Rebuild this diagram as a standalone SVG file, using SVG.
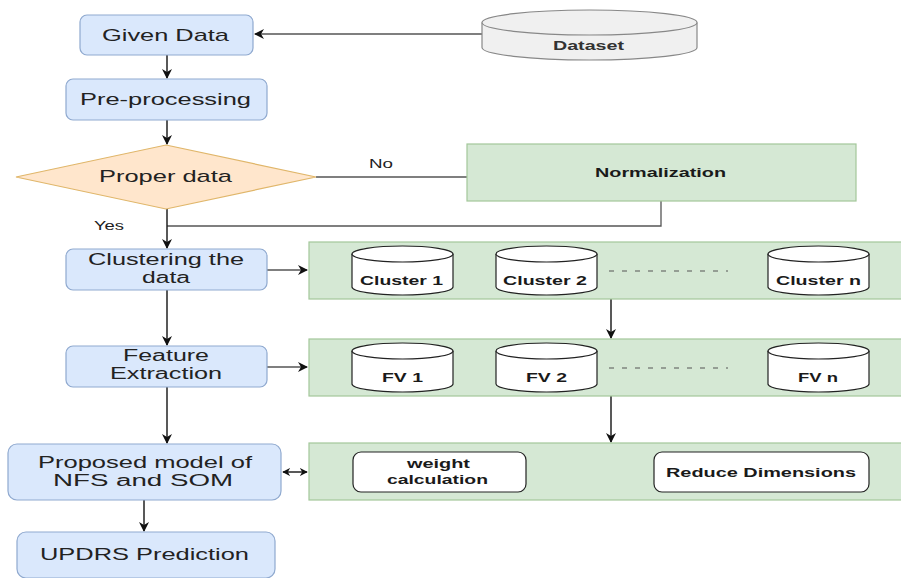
<svg xmlns="http://www.w3.org/2000/svg" width="901" height="578" viewBox="0 0 901 578">
<defs>
<style>
.blue{fill:#dae8fc;stroke:#8fa9cf;stroke-width:1.2}
.green{fill:#d5e8d4;stroke:#a3c79a;stroke-width:1.2}
.dia{fill:#ffe6cc;stroke:#e0b66a;stroke-width:1.2}
.cyl{fill:#ffffff;stroke:#222;stroke-width:1.2}
.wbox{fill:#ffffff;stroke:#222;stroke-width:1.2}
.t{font-family:"Liberation Sans",Arial,sans-serif;font-size:17px;fill:#222;text-anchor:middle}
.t2{font-family:"Liberation Sans",Arial,sans-serif;font-size:16px;fill:#222;text-anchor:middle}
.b{font-family:"Liberation Sans",Arial,sans-serif;font-size:13px;font-weight:bold;fill:#1a1a1a;text-anchor:middle}
.lbl{font-family:"Liberation Sans",Arial,sans-serif;font-size:13px;fill:#222;text-anchor:middle}
.c{fill:none;stroke:#222;stroke-width:1.5}
.cg{fill:none;stroke:#555;stroke-width:1.3}
</style>
<marker id="ah" viewBox="0 0 10 10" refX="9" refY="5" markerWidth="10" markerHeight="10" markerUnits="userSpaceOnUse" orient="auto">
<path d="M0,0 L10,5 L0,10 L3,5 Z" fill="#111"/>
</marker>
<marker id="ahs" viewBox="0 0 10 10" refX="9" refY="5" markerWidth="8" markerHeight="8" markerUnits="userSpaceOnUse" orient="auto-start-reverse">
<path d="M0,0 L10,5 L0,10 L3,5 Z" fill="#111"/>
</marker>
</defs>
<rect width="901" height="578" fill="#ffffff"/>

<g id="connectors">
<path class="cg" d="M482,34 H255" marker-end="url(#ah)"/>
<path class="c" d="M167,55 V78" marker-end="url(#ah)"/>
<path class="c" d="M167,120 V144" marker-end="url(#ah)"/>
<path class="cg" d="M316,177 H467"/>
<path class="cg" d="M661,201 V226 H167"/>
<path class="c" d="M167,209 V248" marker-end="url(#ah)"/>
<path class="cg" d="M267,270 H307" marker-end="url(#ah)"/>
<path class="c" d="M167,290 V345" marker-end="url(#ah)"/>
<path class="cg" d="M267,367 H307" marker-end="url(#ah)"/>
<path class="c" d="M611,299 V338" marker-end="url(#ah)"/>
<path class="c" d="M167,387 V443" marker-end="url(#ah)"/>
<path class="c" d="M611,396 V442" marker-end="url(#ah)"/>
<path class="c" d="M283,472 H307" marker-start="url(#ahs)" marker-end="url(#ahs)"/>
<path class="c" d="M144,500 V531" marker-end="url(#ah)"/>
<text class="lbl" x="381" y="168" textLength="24" lengthAdjust="spacingAndGlyphs">No</text>
<text class="lbl" x="109" y="230" textLength="30" lengthAdjust="spacingAndGlyphs">Yes</text>
</g>

<g id="dataset">
<path d="M482,22.5 V47.5 A107.5,12.5 0 0 0 697,47.5 V22.5" fill="#f0f0f0" stroke="#888" stroke-width="1.2"/>
<ellipse cx="589.5" cy="22.5" rx="107.5" ry="12.5" fill="#f0f0f0" stroke="#888" stroke-width="1.2"/>
<text class="b" x="588.5" y="50" textLength="71" lengthAdjust="spacingAndGlyphs" style="fill:#333">Dataset</text>
</g>

<g id="given-data">
<rect class="blue" x="80" y="15" width="173" height="40" rx="7"/>
<text class="t" x="165.5" y="41" textLength="127" lengthAdjust="spacingAndGlyphs">Given Data</text>
</g>

<g id="pre-processing">
<rect class="blue" x="66" y="79" width="201" height="41" rx="7"/>
<text class="t" x="165.5" y="105" textLength="171" lengthAdjust="spacingAndGlyphs">Pre-processing</text>
</g>

<g id="proper-data">
<polygon class="dia" points="166,145 316,177 166,209 16,177"/>
<text class="t" x="165.5" y="182" textLength="133" lengthAdjust="spacingAndGlyphs">Proper data</text>
</g>

<g id="normalization">
<rect class="green" x="467" y="144" width="389" height="57"/>
<text class="b" x="660.5" y="177" textLength="131" lengthAdjust="spacingAndGlyphs">Normalization</text>
</g>

<g id="clustering">
<rect class="blue" x="66" y="249" width="201" height="41" rx="7"/>
<text class="t2" x="166" y="265" textLength="156" lengthAdjust="spacingAndGlyphs">Clustering the</text>
<text class="t2" x="166" y="283" textLength="48" lengthAdjust="spacingAndGlyphs">data</text>
</g>

<g id="clusters">
<rect class="green" x="309" y="242" width="600" height="57"/>
<path class="cyl" d="M352,254 V287 A50.5,8 0 0 0 453,287 V254"/>
<ellipse class="cyl" cx="402.5" cy="254" rx="50.5" ry="8"/>
<text class="b" x="401.5" y="285" textLength="83" lengthAdjust="spacingAndGlyphs">Cluster 1</text>
<path class="cyl" d="M496,254 V287 A50.5,8 0 0 0 597,287 V254"/>
<ellipse class="cyl" cx="546.5" cy="254" rx="50.5" ry="8"/>
<text class="b" x="545" y="285" textLength="84" lengthAdjust="spacingAndGlyphs">Cluster 2</text>
<path class="cyl" d="M768,254 V287 A50.5,8 0 0 0 869,287 V254"/>
<ellipse class="cyl" cx="818.5" cy="254" rx="50.5" ry="8"/>
<text class="b" x="818.5" y="285" textLength="85" lengthAdjust="spacingAndGlyphs">Cluster n</text>
<path d="M609,271 H728" stroke="#555" stroke-width="1" stroke-dasharray="5 8" fill="none"/>
</g>

<g id="feature-extraction">
<rect class="blue" x="66" y="346" width="201" height="41" rx="7"/>
<text class="t2" x="166" y="361" textLength="86" lengthAdjust="spacingAndGlyphs">Feature</text>
<text class="t2" x="166" y="379" textLength="112" lengthAdjust="spacingAndGlyphs">Extraction</text>
</g>

<g id="feature-vectors">
<rect class="green" x="309" y="339" width="600" height="57"/>
<path class="cyl" d="M352,351 V384 A50.5,8 0 0 0 453,384 V351"/>
<ellipse class="cyl" cx="402.5" cy="351" rx="50.5" ry="8"/>
<text class="b" x="402.5" y="382" textLength="41" lengthAdjust="spacingAndGlyphs">FV 1</text>
<path class="cyl" d="M496,351 V384 A50.5,8 0 0 0 597,384 V351"/>
<ellipse class="cyl" cx="546.5" cy="351" rx="50.5" ry="8"/>
<text class="b" x="546.5" y="382" textLength="41" lengthAdjust="spacingAndGlyphs">FV 2</text>
<path class="cyl" d="M768,351 V384 A50.5,8 0 0 0 869,384 V351"/>
<ellipse class="cyl" cx="818.5" cy="351" rx="50.5" ry="8"/>
<text class="b" x="818" y="382" textLength="40" lengthAdjust="spacingAndGlyphs">FV n</text>
<path d="M609,368 H728" stroke="#555" stroke-width="1" stroke-dasharray="5 8" fill="none"/>
</g>

<g id="proposed-model">
<rect class="blue" x="8" y="444" width="273" height="56" rx="9"/>
<text class="t2" x="145" y="468" textLength="214" lengthAdjust="spacingAndGlyphs">Proposed model of</text>
<text class="t2" x="143" y="486" textLength="180" lengthAdjust="spacingAndGlyphs">NFS and SOM</text>
</g>

<g id="som-block">
<rect class="green" x="309" y="443" width="600" height="57"/>
<rect class="wbox" x="353" y="452" width="173" height="40" rx="8"/>
<text class="b" x="438.5" y="468" textLength="63" lengthAdjust="spacingAndGlyphs">weight</text>
<text class="b" x="437.5" y="484" textLength="101" lengthAdjust="spacingAndGlyphs">calculation</text>
<rect class="wbox" x="654" y="452" width="215" height="40" rx="8"/>
<text class="b" x="761" y="477" textLength="190" lengthAdjust="spacingAndGlyphs">Reduce Dimensions</text>
</g>

<g id="updrs">
<rect class="blue" x="17" y="532" width="258" height="46" rx="9"/>
<text class="t" x="144.5" y="560" textLength="209" lengthAdjust="spacingAndGlyphs">UPDRS Prediction</text>
</g>
</svg>
